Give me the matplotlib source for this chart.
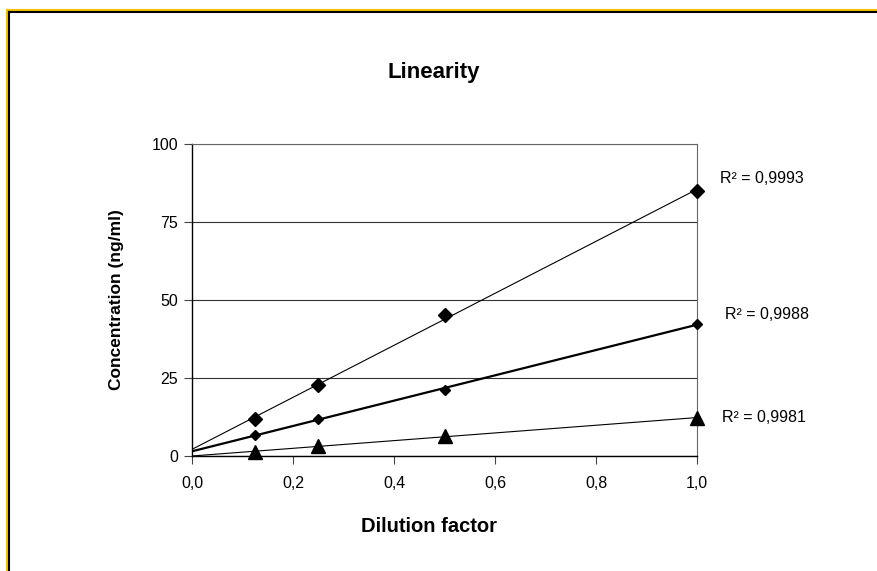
import numpy as np
import matplotlib
matplotlib.use("Agg")
import matplotlib.pyplot as plt
from matplotlib.lines import Line2D

plt.rcParams['font.family'] = ['Liberation Sans', 'DejaVu Sans']

# dilution factors and measured concentrations (ng/ml)
dilution = [0.125, 0.25, 0.5, 1.0]
conc_high = [11.9, 22.8, 45.2, 84.9]
conc_mid = [6.7, 11.9, 21.2, 42.3]
conc_low = [1.3, 3.2, 6.4, 12.2]
r2_labels = ["R² = 0,9993", "R² = 0,9988", "R² = 0,9981"]
r2_pos = [(1.045, 89), (1.055, 45.5), (1.05, 12.5)]

x_ticks = [0.0, 0.2, 0.4, 0.6, 0.8, 1.0]
x_tick_labels = ["0,0", "0,2", "0,4", "0,6", "0,8", "1,0"]
y_ticks = [0, 25, 50, 75, 100]

W, H = 877, 571
fig = plt.figure(figsize=(W / 100, H / 100), dpi=100)
ax = fig.add_axes([192 / W, 115 / H, 505 / W, 312 / H])

xfit = np.array([0.0, 1.0])
series = [
    (conc_high, "D", 6.8, 0.8),
    (conc_mid, "D", 4.6, 1.6),
    (conc_low, "^", 10.5, 0.8),
]
for ys, mk, ms, lw in series:
    k, b = np.polyfit(dilution, ys, 1)
    ax.plot(xfit, k * xfit + b, color="black", lw=lw, zorder=3)
    ax.plot(dilution, ys, linestyle="none", marker=mk, ms=ms,
            color="black", zorder=4, clip_on=False)

for txt, (tx, ty) in zip(r2_labels, r2_pos):
    ax.text(tx, ty, txt, fontsize=11.5, ha="left", va="center", clip_on=False)

ax.set_xlim(0, 1.0)
ax.set_ylim(0, 100)
ax.set_xticks(x_ticks)
ax.set_xticklabels(x_tick_labels, fontsize=11.5)
ax.set_yticks(y_ticks)
ax.set_yticklabels([str(v) for v in y_ticks], fontsize=11.5)
ax.tick_params(direction="out", length=6, width=0.8, color="#444444")
ax.tick_params(axis="x", pad=8.5)
ax.tick_params(axis="y", pad=4)
ax.yaxis.grid(True, color="#333333", lw=0.8)
ax.set_axisbelow(True)
for s in ["top", "right"]:
    ax.spines[s].set_color("#666666")
    ax.spines[s].set_linewidth(0.8)
for s in ["left", "bottom"]:
    ax.spines[s].set_color("black")
    ax.spines[s].set_linewidth(1.0)

fig.text(429 / W, 1 - 527 / H, "Dilution factor", fontsize=14.5,
         fontweight="bold", ha="center", va="center")
fig.text(117 / W, 1 - 300 / H, "Concentration (ng/ml)", fontsize=12.5,
         fontweight="bold", ha="center", va="center", rotation=90)
fig.text(434 / W, 1 - 72 / H, "Linearity", fontsize=16, fontweight="bold",
         ha="center", va="center")

# frame border seen at the top and left edge of the screenshot
fig.add_artist(Line2D([6.5 / W, 1], [1 - 9.5 / H, 1 - 9.5 / H],
                      color="#f5c000", lw=1.5, transform=fig.transFigure))
fig.add_artist(Line2D([6.5 / W, 6.5 / W], [0, 1 - 9.5 / H],
                      color="#f5c000", lw=1.5, transform=fig.transFigure))
fig.add_artist(Line2D([8.5 / W, 1], [1 - 11.5 / H, 1 - 11.5 / H],
                      color="black", lw=1.5, transform=fig.transFigure))
fig.add_artist(Line2D([8.5 / W, 8.5 / W], [0, 1 - 11.5 / H],
                      color="black", lw=1.5, transform=fig.transFigure))

fig.savefig("out.png", dpi=100, facecolor="white")
